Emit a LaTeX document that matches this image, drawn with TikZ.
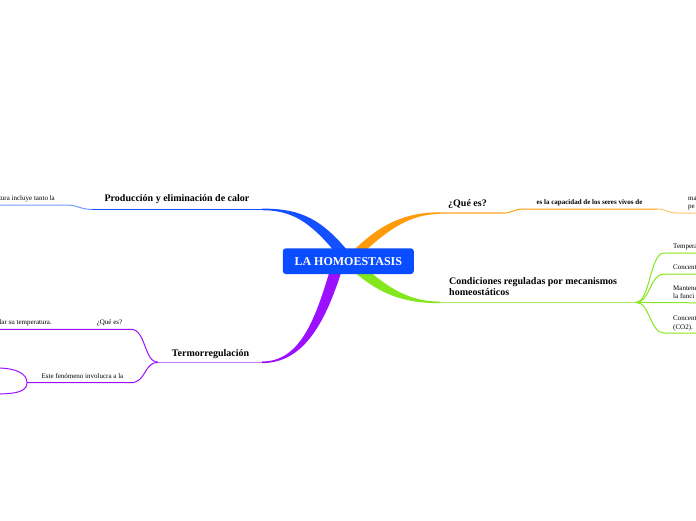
\documentclass[tikz,border=0pt]{standalone}
\usepackage{fontspec}
\setmainfont{Liberation Serif}
\usetikzlibrary{positioning}
\definecolor{rootblue}{HTML}{0A4CFF}
\definecolor{calorblue}{HTML}{1450FF}
\definecolor{calorlight}{HTML}{6E9BFF}
\definecolor{termopurple}{HTML}{9B10FF}
\definecolor{termolight}{HTML}{C679FF}
\definecolor{queorange}{HTML}{FF9A0A}
\definecolor{quelight}{HTML}{FFC46E}
\definecolor{condgreen}{HTML}{84E61C}
\definecolor{condlight}{HTML}{A6EE5C}

\begin{document}
\begin{tikzpicture}[x=1pt,y=-1pt,
  topic/.style={inner sep=0pt,font=\bfseries\fontsize{10}{11}\selectfont},
  leaf/.style={inner sep=0pt,align=left,font=\fontsize{7}{8.5}\selectfont},
  twig/.style={line width=1pt}]
\useasboundingbox (0,0) rectangle (696,520);
\clip (0,0) rectangle (696,520);

\coordinate (calorJ) at (262,209.4);
\coordinate (calorE) at (92,209.4);
\coordinate (termoJ) at (262,362.3);
\coordinate (termoE) at (158,362.3);
\coordinate (queJ) at (440,213.1);
\coordinate (queE) at (503,213.1);
\coordinate (condJ) at (440,302.4);
\coordinate (condE) at (636,302.4);

% main branches
\fill[calorblue] (347,250) .. controls (318,215) and (295,208.6) .. ([yshift=0.8pt]calorJ)
  -- ([yshift=-0.8pt]calorJ) .. controls (292,210.2) and (310,222) .. (335,252) -- cycle;
\fill[termopurple] (342,270) .. controls (326,320) and (305,363.1) .. ([yshift=-0.8pt]termoJ)
  -- ([yshift=0.8pt]termoJ) .. controls (300,361.5) and (315,320) .. (330,270) -- cycle;
\fill[queorange] (352,252) .. controls (380,224) and (405,212.3) .. ([yshift=0.8pt]queJ)
  -- ([yshift=-0.8pt]queJ) .. controls (410,214) and (388,230) .. (364,252) -- cycle;
\fill[condgreen] (352,270) .. controls (380,295) and (405,303.2) .. ([yshift=-0.8pt]condJ)
  -- ([yshift=0.8pt]condJ) .. controls (410,301.6) and (388,288) .. (366,268) -- cycle;

\draw[calorblue,line width=1.3pt] (calorJ) -- (calorE);
\draw[termolight,line width=1.3pt] (termoJ) -- (termoE);
\draw[quelight,line width=1.3pt] (queJ) -- (queE);
\draw[condlight,line width=1.3pt] (condJ) -- (condE);

% sub branches
\draw[calorlight,twig] (calorE) .. controls (80,209.4) and (78,205) .. (66,205) -- (0,205);
\draw[termopurple,twig] (termoE) .. controls (144,362.3) and (146,329.3) .. (131,329.3) -- (0,329.3);
\draw[termopurple,twig] (termoE) .. controls (144,362.3) and (146,382.7) .. (131,382.7) -- (27,382.7)
  .. controls (27,373) and (15,368.5) .. (0,368);
\draw[termopurple,twig] (27,382.7) .. controls (27,392) and (15,393.5) .. (0,394);
\draw[queorange,twig] (queE) .. controls (512,213.1) and (514,209) .. (523,209) -- (657,209);
\draw[quelight,twig] (657,209) .. controls (666,209) and (668,213) .. (677,213) -- (696,213);
\foreach \y in {253,274,333}
  \draw[condgreen,twig] (condE) .. controls (650,302.4) and (650,\y) .. (664,\y) -- (696,\y);
\draw[condgreen,twig] (condE) -- (696,302.8);

% labels
\node[topic,anchor=base] (calor) at (177,201) {Producción y eliminación de calor};
\node[leaf,anchor=base east] (calorT) at (55,200.5) {tura incluye tanto la};
\node[topic,anchor=base] (termo) at (210.5,356) {Termorregulación};
\node[leaf,anchor=base] (termoQ) at (109.5,324.5) {¿Qué es?};
\node[leaf,anchor=base east] (termoT) at (52,324.5) {lar su temperatura.};
\node[leaf,anchor=base] (termoF) at (82.5,378) {Este fenómeno involucra a la};
\node[topic,anchor=base west] (que) at (448,206) {¿Qué es?};
\node[leaf,font=\bfseries\fontsize{7}{8}\selectfont,anchor=base] (queC) at (589.5,204) {es la capacidad de los seres vivos de};
\node[leaf,anchor=north west] (queM) at (688,196.8) {ma\\pe};
\node[topic,align=left,anchor=north west] (cond) at (449,277.2) {Condiciones reguladas por mecanismos\\homeostáticos};
\node[leaf,anchor=base west] (condT) at (673,248) {Tempera};
\node[leaf,anchor=base west] (condG) at (673,269) {Concent};
\node[leaf,anchor=north west] (condM) at (673,285.4) {Mantene\\la funci};
\node[leaf,anchor=north west] (condC) at (673,316.1) {Concent\\(CO2).};

\node[fill=rootblue,rounded corners=3pt,minimum width=131pt,minimum height=25.7pt,
  text=white,font=\bfseries\fontsize{12}{14}\selectfont] (root) at (348.3,261.2) {LA HOMOESTASIS};
\end{tikzpicture}
\end{document}
